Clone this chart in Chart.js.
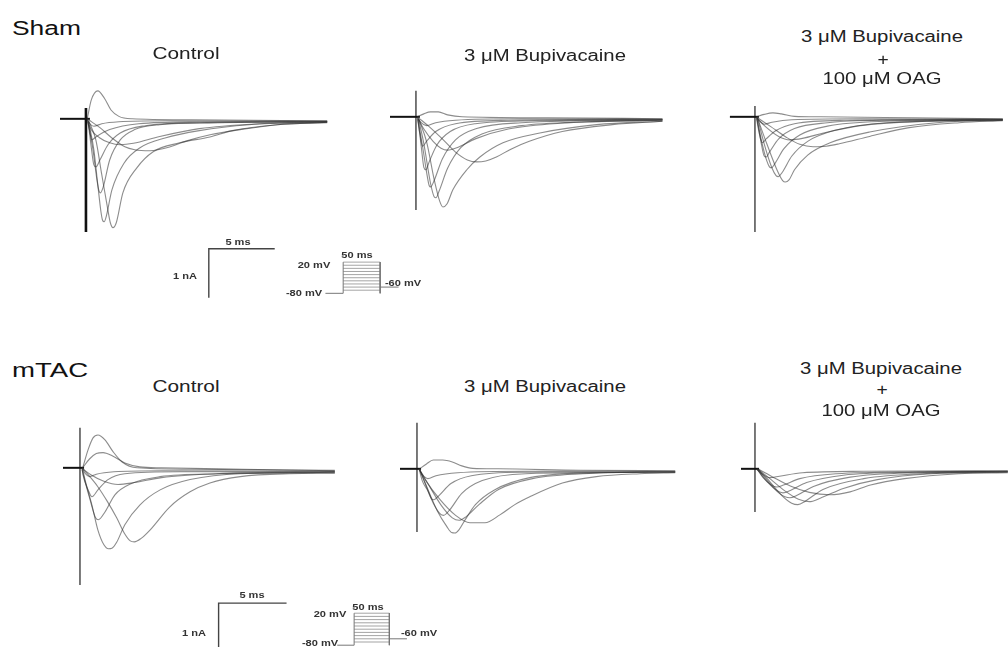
<!DOCTYPE html>
<html>
<head>
<meta charset="utf-8">
<script src="https://cdn.jsdelivr.net/npm/chart.js@4.4.1/dist/chart.umd.min.js"></script>
<style>
  html, body { margin: 0; padding: 0; background: #fff; }
  #fig { position: relative; width: 1008px; height: 647px; overflow: hidden; background: #fff;
         font-family: "Liberation Sans", Arial, sans-serif; }
  #fig canvas { position: absolute; }
  .t { position: absolute; white-space: nowrap; line-height: 1; color: #222; }
</style>
</head>
<body>
<div id="fig"></div>
<script>
// ---------------------------------------------------------------------------
// Sodium current families: each trace is a list of [time (ms), current (nA)].
// Time 0 is the onset of the depolarising step.
// ---------------------------------------------------------------------------

// Sham, control
const shamControl = [
  [[0.1,0],[0.4,0.38],[0.9,0.57],[1.4,0.42],[1.9,0.18],[2.5,0.05],[3.5,0],[8,-0.02],[18.3,-0.04]],
  [[0.1,0],[0.3,-0.1],[0.6,-0.15],[1.2,-0.1],[2.5,-0.06],[6,-0.04],[18.3,-0.05]],
  [[0.1,0],[0.25,-0.2],[0.45,-0.43],[0.75,-0.37],[1.8,-0.22],[4,-0.1],[8.6,-0.06],[18.3,-0.05]],
  [[0.1,0],[0.2,-0.15],[0.38,-0.53],[0.6,-0.94],[0.75,-0.98],[1.06,-0.84],[1.67,-0.53],[2.6,-0.29],[4.5,-0.14],[8.6,-0.08],[18.3,-0.06]],
  [[0.15,-0.06],[0.53,-0.63],[0.83,-1.24],[0.98,-1.46],[1.1,-1.51],[1.3,-1.4],[1.8,-0.84],[2.6,-0.43],[3.7,-0.22],[5.6,-0.12],[10,-0.08],[18.3,-0.06]],
  [[0.2,-0.06],[0.6,-0.63],[0.9,-1.35],[1.14,-1.9],[1.26,-2.07],[1.38,-2.1],[1.55,-1.98],[1.97,-1.45],[2.9,-0.9],[4.1,-0.59],[6,-0.39],[8.6,-0.24],[12.4,-0.12],[18.3,-0.07]],
  [[0.2,-0.04],[0.75,-0.43],[1.2,-1.14],[1.6,-1.76],[1.85,-2.12],[2.05,-2.22],[2.3,-2.12],[2.8,-1.51],[3.86,-1.0],[5.1,-0.67],[7.1,-0.49],[9.4,-0.37],[11.1,-0.24],[14.5,-0.12],[18.3,-0.08]],
  [[0.15,-0.05],[0.4,-0.22],[1.0,-0.38],[1.8,-0.49],[2.6,-0.53],[3.6,-0.5],[5.6,-0.36],[8.6,-0.2],[13.2,-0.1],[18.3,-0.06]],
  [[0.2,-0.02],[1.06,-0.18],[1.97,-0.39],[2.95,-0.57],[3.7,-0.63],[4.85,-0.65],[6.4,-0.57],[7.65,-0.45],[9.5,-0.32],[11.7,-0.22],[14.5,-0.12],[18.3,-0.07]]
];

// Sham, 3 µM bupivacaine
const shamBupi = [
  [[0.1,0],[0.6,0.06],[1.1,0.1],[1.7,0.1],[2.4,0.04],[3.5,0],[10,-0.02],[18.7,-0.04]],
  [[0.1,0],[0.4,-0.12],[0.8,-0.18],[1.5,-0.12],[3,-0.07],[8,-0.04],[18.7,-0.05]],
  [[0.1,0],[0.3,-0.35],[0.5,-0.6],[0.8,-0.5],[1.5,-0.3],[3,-0.14],[7,-0.07],[18.7,-0.05]],
  [[0.15,-0.05],[0.4,-0.6],[0.6,-1.03],[0.75,-1.08],[1.0,-0.92],[1.6,-0.57],[2.6,-0.3],[4.5,-0.14],[9,-0.08],[18.7,-0.06]],
  [[0.15,-0.05],[0.5,-0.6],[0.85,-1.2],[1.0,-1.4],[1.12,-1.43],[1.35,-1.32],[2.0,-0.86],[3.0,-0.47],[4.6,-0.24],[8,-0.12],[18.7,-0.06]],
  [[0.2,-0.05],[0.6,-0.55],[1.1,-1.35],[1.38,-1.63],[1.52,-1.65],[1.75,-1.52],[2.4,-1.05],[3.4,-0.63],[5,-0.35],[8,-0.18],[13,-0.1],[18.7,-0.07]],
  [[0.2,-0.04],[0.8,-0.5],[1.4,-1.3],[1.8,-1.72],[2.05,-1.84],[2.35,-1.78],[2.8,-1.49],[3.86,-1.08],[4.85,-0.82],[6.6,-0.53],[9.4,-0.33],[13.7,-0.16],[18.7,-0.09]],
  [[0.15,-0.03],[0.6,-0.25],[1.3,-0.5],[1.9,-0.64],[2.4,-0.68],[3.2,-0.62],[4.5,-0.45],[7,-0.25],[11,-0.13],[18.7,-0.07]],
  [[0.2,-0.02],[1.0,-0.2],[2.0,-0.45],[3.0,-0.72],[3.9,-0.88],[4.6,-0.92],[5.3,-0.9],[6.1,-0.82],[7.2,-0.66],[8.6,-0.5],[11.1,-0.3],[14.9,-0.16],[18.7,-0.09]]
];

// Sham, 3 µM bupivacaine + 100 µM OAG
const shamOag = [
  [[0.1,0],[0.7,0.05],[1.36,0.08],[2.0,0.06],[3.0,0.01],[5,0],[12,-0.02],[18.8,-0.04]],
  [[0.1,0],[0.4,-0.1],[0.7,-0.15],[1.3,-0.11],[2.8,-0.06],[8,-0.04],[18.8,-0.05]],
  [[0.1,0],[0.3,-0.3],[0.55,-0.53],[0.85,-0.45],[1.6,-0.28],[3,-0.14],[7,-0.07],[18.8,-0.05]],
  [[0.15,-0.03],[0.45,-0.5],[0.7,-0.8],[0.85,-0.82],[1.1,-0.72],[1.8,-0.45],[3,-0.24],[5.5,-0.12],[10,-0.07],[18.8,-0.06]],
  [[0.15,-0.03],[0.55,-0.55],[0.9,-0.9],[1.1,-1.02],[1.25,-1.04],[1.5,-0.96],[2.2,-0.65],[3.4,-0.37],[5.5,-0.19],[10,-0.09],[18.8,-0.06]],
  [[0.2,-0.03],[0.7,-0.55],[1.3,-1.05],[1.6,-1.2],[1.78,-1.22],[2.05,-1.14],[2.8,-0.8],[4,-0.5],[6,-0.28],[10,-0.12],[18.8,-0.07]],
  [[0.2,-0.03],[0.9,-0.55],[1.7,-1.1],[2.1,-1.3],[2.3,-1.33],[2.6,-1.28],[3.0,-1.08],[4.0,-0.78],[5.7,-0.53],[8.7,-0.31],[13.8,-0.12],[18.8,-0.07]],
  [[0.15,-0.02],[0.8,-0.2],[1.8,-0.4],[2.65,-0.47],[3.6,-0.44],[5.2,-0.33],[8,-0.18],[13,-0.09],[18.8,-0.06]],
  [[0.2,-0.02],[1.2,-0.2],[2.4,-0.42],[3.4,-0.56],[4.4,-0.61],[5.4,-0.6],[6.4,-0.55],[8.7,-0.4],[11.7,-0.22],[15.5,-0.12],[18.8,-0.08]]
];

// mTAC, control
const tacControl = [
  [[0.2,0],[0.6,0.37],[0.96,0.61],[1.32,0.67],[1.84,0.57],[2.43,0.33],[3.1,0.12],[4.2,0],[8,-0.03],[18.75,-0.05]],
  [[0.2,0],[0.7,0.18],[1.2,0.29],[1.7,0.31],[2.4,0.24],[3.3,0.1],[4.4,0.02],[6,0],[12,-0.03],[18.75,-0.06]],
  [[0.15,0],[0.4,-0.12],[0.7,-0.18],[1.2,-0.13],[2.5,-0.08],[6,-0.06],[18.75,-0.07]],
  [[0.15,0],[0.22,-0.14],[0.6,-0.45],[0.88,-0.59],[1.32,-0.45],[2.06,-0.24],[3.3,-0.12],[7.35,-0.08],[18.75,-0.08]],
  [[0.15,-0.03],[0.3,-0.2],[0.74,-0.65],[1.15,-1.02],[1.35,-1.06],[1.84,-0.9],[2.57,-0.55],[3.7,-0.33],[5.9,-0.18],[10.3,-0.12],[18.75,-0.09]],
  [[0.2,-0.03],[0.37,-0.24],[0.88,-0.76],[1.32,-1.27],[1.76,-1.57],[2.1,-1.65],[2.35,-1.64],[2.7,-1.52],[3.3,-1.16],[4.4,-0.76],[5.9,-0.45],[8.1,-0.24],[11.8,-0.12],[18.75,-0.1]],
  [[0.2,-0.02],[0.6,-0.14],[1.3,-0.38],[2.0,-0.68],[2.7,-1.02],[3.3,-1.35],[3.7,-1.49],[4.0,-1.51],[4.5,-1.44],[5.15,-1.27],[6.6,-0.8],[8.1,-0.49],[9.56,-0.31],[11.8,-0.18],[15.4,-0.12],[18.75,-0.11]],
  [[0.2,-0.02],[0.8,-0.14],[1.8,-0.28],[2.8,-0.34],[4,-0.3],[6,-0.2],[10,-0.12],[18.75,-0.08]]
];

// mTAC, 3 µM bupivacaine
const tacBupi = [
  [[0.2,0],[0.7,0.1],[1.2,0.18],[1.9,0.18],[2.6,0.14],[3.3,0.06],[4.1,0.01],[6,0],[12,-0.03],[19,-0.04]],
  [[0.15,0],[0.4,-0.12],[0.8,-0.2],[1.4,-0.14],[3,-0.08],[8,-0.05],[19,-0.05]],
  [[0.15,0],[0.4,-0.25],[0.8,-0.45],[1.1,-0.62],[1.25,-0.63],[1.6,-0.55],[2.5,-0.3],[4,-0.14],[8,-0.07],[19,-0.06]],
  [[0.2,-0.02],[0.6,-0.3],[1.2,-0.7],[1.75,-0.93],[1.95,-0.95],[2.4,-0.84],[3.3,-0.5],[4.8,-0.24],[8,-0.1],[19,-0.07]],
  [[0.2,-0.02],[0.7,-0.35],[1.5,-0.86],[2.2,-1.18],[2.55,-1.3],[2.8,-1.31],[3.1,-1.24],[3.5,-1.06],[4.3,-0.73],[5.7,-0.43],[8.3,-0.18],[13.5,-0.08],[19,-0.07]],
  [[0.2,-0.02],[0.8,-0.3],[1.8,-0.75],[2.6,-1.0],[3.1,-1.05],[3.6,-0.98],[4.6,-0.72],[6,-0.42],[8.5,-0.2],[13,-0.09],[19,-0.06]],
  [[0.2,-0.02],[0.6,-0.22],[1.7,-0.63],[2.8,-0.94],[3.9,-1.1],[5.0,-1.1],[6.1,-0.94],[7.2,-0.73],[8.3,-0.57],[10.7,-0.29],[13.2,-0.16],[16.4,-0.1],[19,-0.08]]
];

// mTAC, 3 µM bupivacaine + 100 µM OAG
const tacOag = [
  [[0.1,0],[0.5,-0.1],[1.1,-0.18],[1.8,-0.15],[3.5,-0.08],[8,-0.05],[18.6,-0.04]],
  [[0.15,0],[0.6,-0.18],[1.2,-0.33],[1.6,-0.37],[2.1,-0.33],[3.3,-0.2],[6,-0.1],[12,-0.06],[18.6,-0.05]],
  [[0.15,0],[0.7,-0.2],[1.5,-0.42],[2.06,-0.49],[2.6,-0.44],[3.8,-0.28],[6.5,-0.13],[12,-0.07],[18.6,-0.05]],
  [[0.2,0],[0.8,-0.2],[1.8,-0.5],[2.57,-0.59],[3.1,-0.54],[4.3,-0.36],[7,-0.17],[12,-0.08],[18.6,-0.06]],
  [[0.2,0],[0.9,-0.2],[2.0,-0.55],[2.7,-0.7],[3.16,-0.73],[3.7,-0.66],[5,-0.42],[8,-0.2],[13,-0.09],[18.6,-0.06]],
  [[0.2,0],[1.0,-0.18],[2.2,-0.45],[3.2,-0.62],[4.0,-0.67],[4.8,-0.6],[6.5,-0.4],[9,-0.22],[13,-0.1],[18.6,-0.07]],
  [[0.2,0],[1.2,-0.15],[2.6,-0.35],[4.0,-0.48],[5.5,-0.53],[7,-0.47],[8.5,-0.33],[11,-0.2],[15,-0.1],[18.6,-0.08]]
];

// Holding segment start (ms) before each step, and the capacitive transient [top, bottom] (nA)
const holdStart = { shamControl: -1.97, shamBupi: -1.97, shamOag: -1.9, tacControl: -1.25, tacBupi: -1.25, tacOag: -1.03 };
const transient = { shamControl: [0.22,-2.31], shamBupi: [0.53,-1.9], shamOag: [0.22,-2.35],
                    tacControl: [0.82,-2.39], tacBupi: [0.94,-1.29], tacOag: [0.94,-0.88] };

// Calibration bars
const scaleBarMs = 5;
const scaleBarNa = 1;

// Voltage protocol (mV / ms)
const holdingMv = -80;
const returnMv = -60;
const stepMv = [-70, -60, -50, -40, -30, -20, -10, 0, 10, 20];
const pulseMs = 50;
const protoPreMs = -24;
const protoPostMs = 75;

// ---------------------------------------------------------------------------
// Layout: pixel position of (t = 0, I = 0) for each panel and its pixel scale
// ---------------------------------------------------------------------------
const TOP = { sx: 13.2, sy: 49 };
const BOT = { sx: 13.6, sy: 49 };
const panelLayout = {
  shamControl: { ax: 86,  by: 119, ...TOP, transientColor: '#111', transientWidth: 2.6 },
  shamBupi:    { ax: 416, by: 117, ...TOP, transientColor: '#333', transientWidth: 1.3 },
  shamOag:     { ax: 755, by: 117, ...TOP, transientColor: '#333', transientWidth: 1.3 },
  tacControl:  { ax: 80,  by: 468, ...BOT, transientColor: '#333', transientWidth: 1.3 },
  tacBupi:     { ax: 417, by: 469, ...BOT, transientColor: '#333', transientWidth: 1.3 },
  tacOag:      { ax: 755, by: 469, ...BOT, transientColor: '#333', transientWidth: 1.3 }
};
const panelX = [-2.5, 19.5];   // ms shown by each panel canvas
const panelY = [-3.9, 1.2];    // nA shown by each panel canvas
// Calibration bar corner (ms, nA) inside the control panels
const barAnchor = { shamControl: [9.32, -2.65], tacControl: [10.2, -2.76] };
// Protocol insets: pixel position of (t = 0, holding level) and pixel scales
const protoLayout = [
  { ax: 343, by: 293, sx: 0.74, sy: 0.31 },
  { ax: 354, by: 645, sx: 0.70, sy: 0.32 }
];

const TRACE_COLOR = 'rgba(45,45,45,0.55)';
const fig = document.getElementById('fig');

function makeChart(lay, xr, yr, datasets, base) {
  const c = document.createElement('canvas');
  const w = Math.round((xr[1] - xr[0]) * lay.sx);
  const h = Math.round((yr[1] - yr[0]) * lay.sy);
  c.width = w; c.height = h;
  c.style.width = w + 'px'; c.style.height = h + 'px';
  c.style.left = (lay.ax + xr[0] * lay.sx) + 'px';
  c.style.top = (lay.by - (yr[1] - base) * lay.sy) + 'px';
  fig.appendChild(c);
  new Chart(c, {
    type: 'line',
    data: { datasets },
    options: {
      responsive: false, animation: false, devicePixelRatio: 1,
      layout: { padding: 0 },
      plugins: { legend: { display: false }, tooltip: { enabled: false } },
      elements: { point: { radius: 0 } },
      scales: {
        x: { type: 'linear', display: false, min: xr[0], max: xr[1] },
        y: { type: 'linear', display: false, min: yr[0], max: yr[1] }
      }
    }
  });
}

const toXY = arr => arr.map(([x, y]) => ({ x, y }));

function straight(data, color, width) {
  return { data, borderColor: color, borderWidth: width, tension: 0, clip: false, pointRadius: 0, fill: false };
}

function drawPanel(name, traces) {
  const lay = panelLayout[name];
  const ds = traces.map(tr => ({
    data: toXY(tr), borderColor: TRACE_COLOR, borderWidth: 1.1,
    cubicInterpolationMode: 'monotone', clip: false, pointRadius: 0, fill: false
  }));
  ds.push(straight([{ x: holdStart[name], y: 0 }, { x: 0.3, y: 0 }], '#111', 2));
  const tr = transient[name];
  ds.push(straight([{ x: 0, y: tr[0] }, { x: 0, y: tr[1] }], lay.transientColor, lay.transientWidth));
  if (barAnchor[name]) {
    const [t0, i0] = barAnchor[name];
    ds.push(straight([{ x: t0 + scaleBarMs, y: i0 }, { x: t0, y: i0 }, { x: t0, y: i0 - scaleBarNa }], '#444', 1.4));
  }
  makeChart(lay, panelX, panelY, ds, 0);
}

drawPanel('shamControl', shamControl);
drawPanel('shamBupi', shamBupi);
drawPanel('shamOag', shamOag);
drawPanel('tacControl', tacControl);
drawPanel('tacBupi', tacBupi);
drawPanel('tacOag', tacOag);

// Voltage-step protocol insets: holding level, step edges, one line per step level, return level
protoLayout.forEach(lay => {
  const top = Math.max(...stepMv);
  const edge = '#777';
  const ds = [
    straight([{ x: protoPreMs, y: holdingMv }, { x: 0, y: holdingMv }], edge, 1),
    straight([{ x: 0, y: holdingMv }, { x: 0, y: top }], edge, 1),
    straight([{ x: pulseMs, y: top }, { x: pulseMs, y: Math.min(holdingMv, returnMv) }], edge, 1),
    straight([{ x: pulseMs, y: returnMv }, { x: protoPostMs, y: returnMv }], edge, 1)
  ].concat(stepMv.map(v => straight([{ x: 0, y: v }, { x: pulseMs, y: v }], 'rgba(90,90,90,0.55)', 1)));
  makeChart(lay, [-30, 85], [-95, 30], ds, holdingMv);
});

// ---------------------------------------------------------------------------
// Text
// ---------------------------------------------------------------------------
function addText(str, x, baseline, size, align, sx, color, weight) {
  const d = document.createElement('div');
  d.className = 't';
  d.textContent = str;
  d.style.fontSize = size + 'px';
  if (weight) d.style.fontWeight = weight;
  d.style.top = (baseline - 0.845 * size) + 'px';
  d.style.left = x + 'px';
  if (color) d.style.color = color;
  if (align === 'center') {
    d.style.transformOrigin = '50% 50%';
    d.style.transform = 'translateX(-50%) scaleX(' + sx + ')';
  } else {
    d.style.transformOrigin = '0 50%';
    d.style.transform = 'scaleX(' + sx + ')';
  }
  fig.appendChild(d);
}
// small labels placed by their vertical centre
function addSmall(str, cx, cy) {
  const s = 8.5;
  addText(str, cx, cy + 0.36 * s, s, 'center', 1.3, '#333', 'bold');
}

addText('Sham', 12, 35, 20, 'left', 1.32, '#111');
addText('mTAC', 12, 377, 20, 'left', 1.38, '#111');

addText('Control', 186, 60, 16, 'center', 1.3);
addText('3 μM Bupivacaine', 545, 62, 16, 'center', 1.27);
addText('3 μM Bupivacaine', 882, 43, 16, 'center', 1.27);
addText('+', 883, 65.5, 16, 'center', 1.2);
addText('100 μM OAG', 882, 85, 16, 'center', 1.27);

addText('Control', 186, 393, 16, 'center', 1.3);
addText('3 μM Bupivacaine', 545, 393, 16, 'center', 1.27);
addText('3 μM Bupivacaine', 881, 375, 16, 'center', 1.27);
addText('+', 882, 395.5, 16, 'center', 1.2);
addText('100 μM OAG', 881, 417, 16, 'center', 1.27);

addSmall('5 ms', 238, 242);
addSmall('1 nA', 185, 276);
addSmall('20 mV', 314, 265);
addSmall('50 ms', 357, 255);
addSmall('-80 mV', 304, 293);
addSmall('-60 mV', 403, 283);

addSmall('5 ms', 252, 595);
addSmall('1 nA', 194, 633);
addSmall('20 mV', 330, 614);
addSmall('50 ms', 368, 607);
addSmall('-80 mV', 320, 643);
addSmall('-60 mV', 419, 633);
</script>
</body>
</html>
